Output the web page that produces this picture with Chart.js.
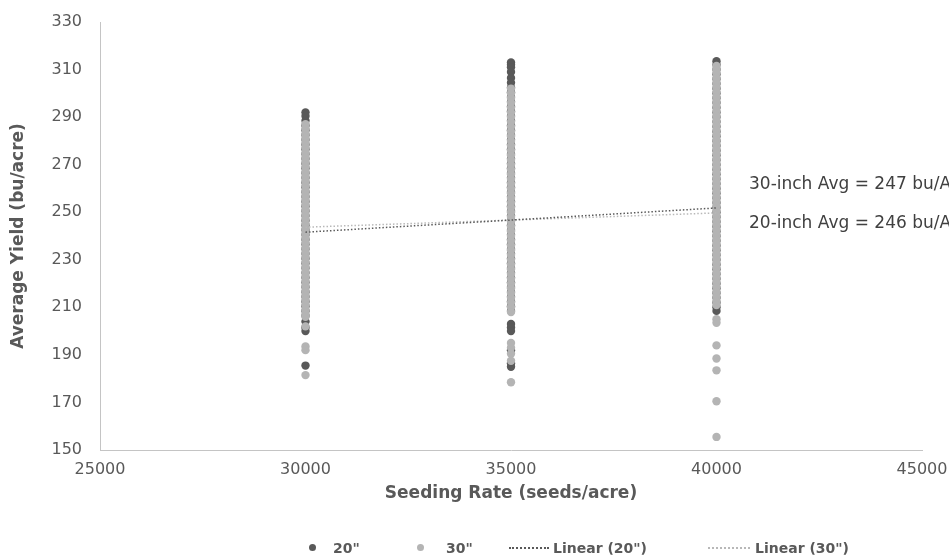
<!DOCTYPE html>
<html>
<head>
<meta charset="utf-8">
<script src="https://cdn.jsdelivr.net/npm/chart.js@4.4.1/dist/chart.umd.min.js"></script>
<style>
  html, body { margin: 0; padding: 0; background: #fff; }
  #wrap { position: relative; width: 949px; height: 558px; overflow: hidden; }
  #legend { position: absolute; left: 0; top: 539px; width: 949px; height: 18px;
    font: bold 14px "DejaVu Sans", sans-serif; color: #595959; }
  #legend span { position: absolute; top: 0; line-height: 18px; white-space: nowrap; }
  #legend .dot { width: 7px; height: 7px; border-radius: 50%; top: 5px; }
  #legend .dash { height: 0; top: 8px; border-top: 2px dotted; }
</style>
</head>
<body>
<div id="wrap">
  <canvas id="chart" width="949" height="558"></canvas>
  <div id="legend">
    <span class="dot" style="left:309px;background:#595959"></span>
    <span style="left:333px">20"</span>
    <span class="dot" style="left:417px;background:#b4b4b4"></span>
    <span style="left:446px">30"</span>
    <span class="dash" style="left:509px;width:40px;border-color:#595959"></span>
    <span style="left:553px">Linear (20")</span>
    <span class="dash" style="left:708px;width:42px;border-color:#b8b8b8"></span>
    <span style="left:755px">Linear (30")</span>
  </div>
</div>
<script>
// seeding rates on the x axis
const seedingRates = [30000, 35000, 40000];

// yields (bu/acre), one list per rate
const yield20At30000 = [292, 290.5, 288.5, 286.5, 284.5, 282.5, 280.5, 278.5, 276.5, 274.5, 272.5, 270.5, 268.5, 266.5, 264.5, 262.5, 260.5, 258.5, 256.5, 254.5, 252.5, 250.5, 248.5, 246.5, 244.5, 242.5, 240.5, 238.5, 236.5, 234.5, 232.5, 230.5, 228.5, 226.5, 224.5, 222.5, 220.5, 218.5, 216.5, 214.5, 212.5, 210.5, 208.5, 206.5, 204, 201.5, 200, 185.5];
const yield20At35000 = [313, 312, 311, 309, 306.5, 304.5, 302.5, 300.5, 298.5, 296.5, 294.5, 292.5, 290.5, 288.5, 286.5, 284.5, 282.5, 280.5, 278.5, 276.5, 274.5, 272.5, 270.5, 268.5, 266.5, 264.5, 262.5, 260.5, 258.5, 256.5, 254.5, 252.5, 250.5, 248.5, 246.5, 244.5, 242.5, 240.5, 238.5, 236.5, 234.5, 232.5, 230.5, 228.5, 226.5, 224.5, 222.5, 220.5, 218.5, 216.5, 214.5, 212.5, 210.5, 208.5, 203, 201.5, 200, 192, 186.5, 185];
const yield20At40000 = [313.5, 312, 310, 308, 306, 304, 302, 300, 298, 296, 294, 292, 290, 288, 286, 284, 282, 280, 278, 276, 274, 272, 270, 268, 266, 264, 262, 260, 258, 256, 254, 252, 250, 248, 246, 244, 242, 240, 238, 236, 234, 232, 230, 228, 226, 224, 222, 220, 218, 216, 214, 212, 210, 208.5];

const yield30At30000 = [287, 285, 283, 281, 279, 277, 275, 273, 271, 269, 267, 265, 263, 261, 259, 257, 255, 253, 251, 249, 247, 245, 243, 241, 239, 237, 235, 233, 231, 229, 227, 225, 223, 221, 219, 217, 215, 213, 211, 209, 207, 206, 202, 193.5, 192, 181.5];
const yield30At35000 = [302, 300, 298, 296, 294, 292, 290, 288, 286, 284, 282, 280, 278, 276, 274, 272, 270, 268, 266, 264, 262, 260, 258, 256, 254, 252, 250, 248, 246, 244, 242, 240, 238, 236, 234, 232, 230, 228, 226, 224, 222, 220, 218, 216, 214, 212, 210, 208, 195, 193, 190.5, 187.5, 178.5];
const yield30At40000 = [311.5, 310, 308.5, 306.5, 304.5, 302.5, 300.5, 298.5, 296.5, 294.5, 292.5, 290.5, 288.5, 286.5, 284.5, 282.5, 280.5, 278.5, 276.5, 274.5, 272.5, 270.5, 268.5, 266.5, 264.5, 262.5, 260.5, 258.5, 256.5, 254.5, 252.5, 250.5, 248.5, 246.5, 244.5, 242.5, 240.5, 238.5, 236.5, 234.5, 232.5, 230.5, 228.5, 226.5, 224.5, 222.5, 220.5, 218.5, 216.5, 214.5, 212.5, 211, 205, 203.5, 194, 188.5, 183.5, 170.5, 155.5];

// linear trend end points
const trendRates = [30000, 40000];
const trend20 = [241.6, 251.8];
const trend30 = [243.7, 249.7];

// axis ticks
const xTicks = [25000, 30000, 35000, 40000, 45000];
const yTicks = [150, 170, 190, 210, 230, 250, 270, 290, 310, 330];

const notes = ["30-inch Avg = 247 bu/A", "20-inch Avg = 246 bu/A"];

const DARK = "#595959";
const LIGHT = "#b4b4b4";
const FONT = '"DejaVu Sans", sans-serif';

function toPoints(lists) {
  const out = [];
  lists.forEach((ys, i) => ys.forEach(y => out.push({ x: seedingRates[i], y })));
  return out;
}

const pts20 = toPoints([yield20At30000, yield20At35000, yield20At40000]);
const pts30 = toPoints([yield30At30000, yield30At35000, yield30At40000]);
const line20 = trendRates.map((x, i) => ({ x, y: trend20[i] }));
const line30 = trendRates.map((x, i) => ({ x, y: trend30[i] }));

const notePlugin = {
  id: "notes",
  afterDraw(chart) {
    const ctx = chart.ctx;
    ctx.save();
    ctx.font = "17px " + FONT;
    ctx.fillStyle = "#404040";
    ctx.textBaseline = "middle";
    ctx.fillText(notes[0], 749, 185);
    ctx.fillText(notes[1], 749, 224);
    ctx.restore();
  }
};

new Chart(document.getElementById("chart"), {
  type: "scatter",
  data: {
    datasets: [
      { label: '20"', data: pts20, order: 3, pointRadius: 4.2, pointHoverRadius: 4.2,
        backgroundColor: DARK, borderColor: DARK, borderWidth: 0 },
      { label: '30"', data: pts30, order: 2, pointRadius: 4.2, pointHoverRadius: 4.2,
        backgroundColor: LIGHT, borderColor: LIGHT, borderWidth: 0 },
      { type: "line", label: 'Linear (20")', data: line20, order: 0, borderColor: DARK,
        borderWidth: 1.5, borderDash: [1.5, 2], pointRadius: 0, fill: false },
      { type: "line", label: 'Linear (30")', data: line30, order: 1, borderColor: "#b8b8b8",
        borderWidth: 1.5, borderDash: [1.5, 2], pointRadius: 0, fill: false }
    ]
  },
  options: {
    responsive: false,
    animation: false,
    devicePixelRatio: 1,
    layout: { padding: { left: 0, right: 27, top: 22, bottom: 50 } },
    plugins: { legend: { display: false }, tooltip: { enabled: false } },
    scales: {
      x: {
        type: "linear", min: 25000, max: 45000,
        afterBuildTicks: s => { s.ticks = xTicks.map(v => ({ value: v })); },
        afterFit: s => { s.height = 58; s.paddingLeft = 0; s.paddingRight = 0; },
        grid: { display: false, drawTicks: false },
        border: { display: true, color: "#c4c4c4", width: 1 },
        ticks: { padding: 10, color: DARK, font: { family: FONT, size: 16 }, callback: v => String(v), maxRotation: 0 },
        title: { display: true, text: "Seeding Rate (seeds/acre)", color: DARK,
          font: { family: FONT, size: 17, weight: "bold" }, padding: { top: 4, bottom: 4 } }
      },
      y: {
        min: 150, max: 330,
        afterBuildTicks: s => { s.ticks = yTicks.map(v => ({ value: v })); },
        afterFit: s => { s.width = 100; s.paddingTop = 0; s.paddingBottom = 0; },
        grid: { display: false, drawTicks: false },
        border: { display: true, color: "#c4c4c4", width: 1 },
        ticks: { padding: 18, color: DARK, font: { family: FONT, size: 16 }, callback: v => String(v) },
        title: { display: true, text: "Average Yield (bu/acre)", color: DARK,
          font: { family: FONT, size: 17, weight: "bold" }, padding: { top: 8, bottom: 0 } }
      }
    }
  },
  plugins: [notePlugin]
});
</script>
</body>
</html>
